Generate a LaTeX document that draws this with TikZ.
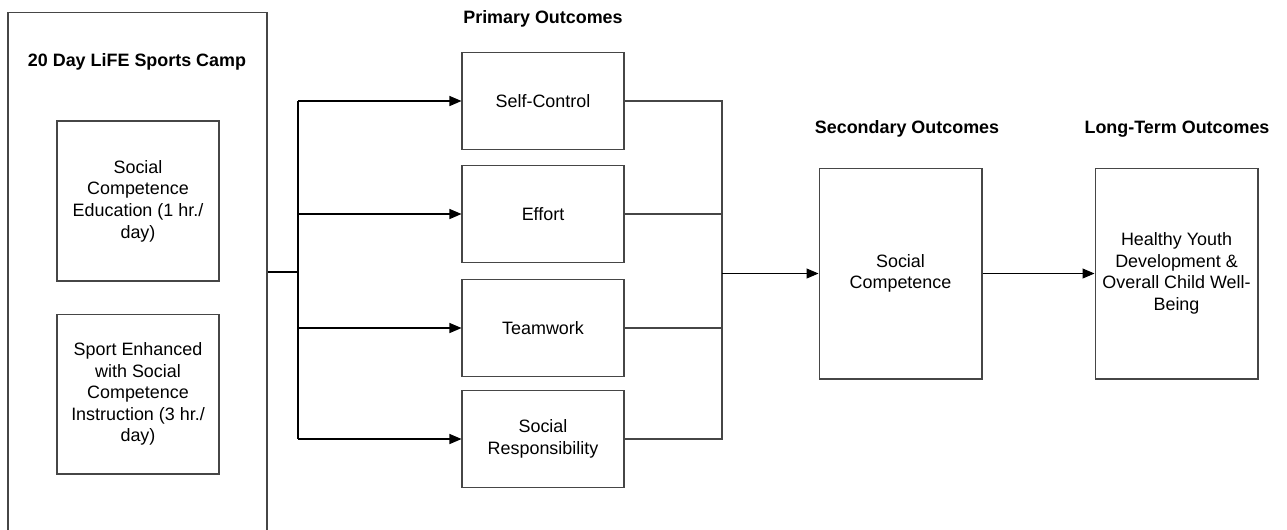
\documentclass[tikz,border=0pt]{standalone}
\usepackage{fontspec}
\setmainfont{Liberation Sans}
\usetikzlibrary{arrows.meta,positioning,calc}
\definecolor{FrameGray}{RGB}{70,70,70}

\begin{document}
\begin{tikzpicture}[x=0.02cm,y=-0.02cm,
        box/.style={draw=FrameGray,line width=0.6pt,fill=white,
          align=center,inner sep=2pt,
          font=\fontsize{10.2}{12.3}\selectfont},
        outcome/.style={box,minimum width=3.24cm,minimum height=1.94cm},
        tallbox/.style={box,minimum width=3.26cm,minimum height=4.22cm},
        part/.style={box,minimum width=3.24cm,minimum height=3.2cm},
        heading/.style={font=\fontsize{10.2}{12.3}\selectfont\bfseries},
        flow/.style={-{Triangle[length=2.4mm,width=2mm]},line width=0.6pt,draw=black},
        link/.style={line width=0.6pt,draw=FrameGray}
      ]
        \clip (0,0) rectangle (1287,529);
        % program box, runs off the bottom edge
        \node[box,minimum width=5.18cm,minimum height=10.96cm] (camp) at (137.5,286) {};
        \node[heading] (camptitle) at (137,62) {20 Day LiFE Sports Camp};
        \node[part] (edu) at (138,201)
          {Social\\Competence\\Education (1 hr./\\day)};
        \node[part] (sport) at (138,394)
          {Sport Enhanced\\with Social\\Competence\\Instruction (3 hr./\\day)};

        % primary outcomes
        \node[heading] (primtitle) at (543,19) {Primary Outcomes};
        \node[outcome] (selfctl) at (543,101) {Self-Control};
        \node[outcome] (effort) at (543,214) {Effort};
        \node[outcome] (team) at (543,328) {Teamwork};
        \node[outcome] (resp) at (543,439) {Social\\Responsibility};

        % secondary and long-term outcomes
        \node[heading] (sectitle) at (907,129) {Secondary Outcomes};
        \node[tallbox] (socomp) at (900.5,273.5) {Social\\Competence};
        \node[heading] (longtitle) at (1177,129) {Long-Term Outcomes};
        \node[tallbox] (health) at (1176.5,273.5)
          {Healthy Youth\\Development \&\\Overall Child Well-\\Being};

        \coordinate (split) at (298,272);
        \coordinate (merge) at (722,273.5);

        \draw[line width=1.2pt] (camp.east |- split) -- (split);
        \draw[line width=0.6pt] (split |- selfctl.west) -- (split |- resp.west);
        \foreach \n in {selfctl,effort,team,resp}
          \draw[flow] (split |- \n.west) -- (\n.west);

        \foreach \n in {selfctl,effort,team,resp}
          \draw[link] (\n.east) -| (merge);
        \draw[flow] (merge) -- (socomp.west);
        \draw[flow] (socomp.east) -- (health.west);
      \end{tikzpicture}
\end{document}
